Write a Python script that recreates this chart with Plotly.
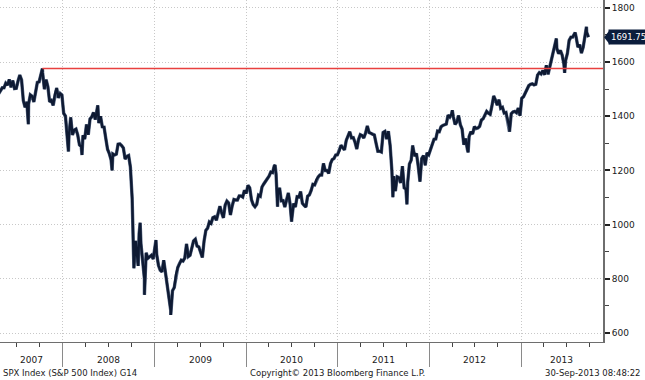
import pandas as pd
import plotly.graph_objects as go

# Weekly closes of the S&P 500 (Friday), by year
c2007 = [1484,1494,1505,1505,1522,1515,1536,1507,1532,1502,1503,1530,1552,1534,1458,1433,1453,1445,1479,1474,1453,1484,1525,1527,1557,1561,1500,1535,1509,1453,1458,1440,1481,1504,1468,1484,1478]
c2008 = [1411,1401,1325,1330,1396,1331,1349,1353,1331,1294,1288,1330,1316,1370,1332,1390,1398,1414,1388,1426,1375,1400,1361,1360,1318,1278,1262,1239,1261,1257,1260,1297,1298,1292,1283,1242,1252,1255,1213,1099,899,940,877,968,931,873,800,896,876,880,887,873]
c2009 = [931,890,850,832,826,869,827,770,735,683,756,768,816,842,857,869,866,877,929,882,887,919,940,946,921,918,896,879,940,979,987,1010,1005,1026,1029,1016,1042,1068,1044,1025,1072,1087,1080,1036,1069,1093,1091,1091,1106,1106,1102,1127]
c2010 = [1115,1145,1136,1092,1074,1066,1075,1109,1105,1139,1150,1160,1167,1179,1194,1192,1217,1187,1111,1136,1088,1089,1065,1092,1117,1076,1023,1078,1065,1103,1102,1122,1079,1071,1065,1105,1110,1126,1149,1147,1166,1176,1183,1183,1226,1200,1200,1189,1225,1240,1244,1257,1258]
c2011 = [1272,1293,1284,1276,1311,1329,1343,1320,1321,1304,1279,1314,1332,1329,1320,1338,1364,1340,1338,1333,1331,1300,1271,1271,1268,1340,1344,1316,1345,1292,1199,1179,1124,1177,1174,1154,1216,1136,1131,1155,1224,1238,1285,1253,1263,1216,1159,1244,1255,1219,1265,1258]
c2012 = [1278,1289,1315,1316,1345,1343,1361,1366,1370,1371,1404,1397,1408,1398,1370,1379,1403,1369,1353,1295,1318,1278,1325,1343,1335,1362,1355,1357,1363,1386,1391,1405,1418,1411,1407,1438,1466,1460,1441,1461,1429,1433,1412,1414,1380,1359,1409,1416,1418,1413,1430,1402]
c2013 = [1466,1472,1486,1503,1513,1518,1520,1516,1518,1552,1561,1556,1569,1553,1588,1555,1582,1614,1633,1667,1650,1631,1643,1626,1593,1606,1632,1680,1692,1692,1709,1691,1655,1664,1633,1655,1688,1710,1691.75]

# Notable intraday extremes
extreme_dates = ['2007-08-16','2007-10-11','2008-01-23','2008-03-17','2008-05-19','2008-07-15','2008-10-10','2008-10-27','2008-11-04','2008-11-21','2009-01-06','2009-03-06','2010-04-26','2010-05-06','2010-07-01','2011-04-29','2011-08-09','2011-10-04','2011-10-27','2012-04-02','2012-06-04','2012-09-14','2012-11-16','2013-05-22','2013-06-24','2013-08-05','2013-09-19']
extreme_vals = [1371,1576,1270,1257,1440,1200,839,848,1007,741,943,667,1220,1066,1011,1364,1101,1075,1292,1422,1267,1475,1343,1687,1560,1709,1730]

year_starts = ['2008-01-01','2009-01-01','2010-01-01','2011-01-01','2012-01-01','2013-01-01']
quarter_ticks = ['2007-07-01','2007-10-01','2008-04-01','2008-07-01','2008-10-01','2009-04-01','2009-07-01','2009-10-01',
                 '2010-04-01','2010-07-01','2010-10-01','2011-04-01','2011-07-01','2011-10-01','2012-04-01','2012-07-01',
                 '2012-10-01','2013-04-01','2013-07-01','2013-10-01']
year_labels = ['2007','2008','2009','2010','2011','2012','2013']
year_label_pos = ['2007-08-29','2008-07-01','2009-07-02','2010-07-02','2011-07-02','2012-07-01','2013-06-13']
y_ticks = [600,800,1000,1200,1400,1600,1800]
y_minor = [700,900,1100,1300,1500,1700]
prior_high = 1576
prior_high_date = '2007-10-11'
last_price = 1691.75

x_range = ['2007-04-25','2013-11-24']
y_range = [567, 1829]

weekly = c2007 + c2008 + c2009 + c2010 + c2011 + c2012 + c2013
weekly_dates = pd.date_range('2007-04-20', periods=len(weekly), freq='W-FRI')
df = pd.concat([
    pd.DataFrame({'d': weekly_dates, 'v': weekly}),
    pd.DataFrame({'d': pd.to_datetime(extreme_dates), 'v': extreme_vals}),
]).sort_values('d', kind='stable')

NAVY = '#0e1a33'
BOX = '#0b1d3c'
GRID = '#c8c8c8'
font_family = 'DejaVu Sans'

fig = go.Figure()
fig.add_trace(go.Scatter(x=df['d'], y=df['v'], mode='lines',
                         line=dict(color='#5a6a85', width=3.4), hoverinfo='skip'))
fig.add_trace(go.Scatter(x=df['d'], y=df['v'], mode='lines',
                         line=dict(color=NAVY, width=2.4), hoverinfo='x+y'))

fig.add_shape(type='line', xref='x', yref='y', x0=prior_high_date, x1=x_range[1],
              y0=prior_high, y1=prior_high, line=dict(color='#e8403f', width=1.5))

# last-price pointer
fig.add_shape(type='path', xref='paper', yref='y', xsizemode='pixel', ysizemode='pixel',
              xanchor=1, yanchor=last_price, path='M 1,0 L 7,7.5 L 7,-7.5 Z',
              fillcolor=BOX, line=dict(width=0))
fig.add_annotation(xref='paper', yref='y', x=1, y=last_price, text=f'{last_price:.2f}',
                   xanchor='left', yanchor='middle', xshift=5, showarrow=False,
                   bgcolor=BOX, borderpad=2,
                   font=dict(family=font_family, size=8.5, color='white'))

for lab, pos in zip(year_labels, year_label_pos):
    fig.add_annotation(xref='x', yref='paper', x=pos, y=0, yanchor='middle', yshift=-18,
                       text=lab, showarrow=False, font=dict(family=font_family, size=9, color='#1a1a1a'))

bottom_font = dict(family=font_family, size=8.5, color='#1a1a1a')
fig.add_annotation(xref='paper', yref='paper', x=0, y=0, xanchor='left', yanchor='middle',
                   xshift=1, yshift=-31, text='SPX Index (S&P 500 Index) G14', showarrow=False, font=bottom_font)
fig.add_annotation(xref='paper', yref='paper', x=337/603, y=0, xanchor='center', yanchor='middle',
                   yshift=-31, text='Copyright© 2013 Bloomberg Finance L.P.', showarrow=False, font=bottom_font)
fig.add_annotation(xref='paper', yref='paper', x=1, y=0, xanchor='right', yanchor='middle',
                   xshift=39, yshift=-31, text='30-Sep-2013 08:48:22', showarrow=False, font=bottom_font)

fig.update_layout(
    width=645, height=380,
    margin=dict(l=0, r=42, t=0, b=38),
    paper_bgcolor='white', plot_bgcolor='white',
    showlegend=False,
    xaxis=dict(type='date', range=x_range, tickmode='array', tickvals=year_starts,
               showticklabels=False, ticks='outside', ticklen=24, tickwidth=1, tickcolor='#8a8a8a',
               showgrid=True, gridcolor=GRID, griddash='1px,2px', gridwidth=1,
               showline=True, linecolor='#6e6e6e', linewidth=1, zeroline=False,
               minor=dict(tickmode='array', tickvals=quarter_ticks, ticks='outside', ticklen=4,
                          tickwidth=1, tickcolor='#444444', showgrid=False)),
    yaxis=dict(side='right', range=y_range, tickmode='array', tickvals=y_ticks,
               ticks='outside', ticklen=5, tickwidth=2, tickcolor='#222222',
               showgrid=True, gridcolor=GRID, griddash='1px,2px', gridwidth=1,
               showline=True, linecolor='#6e6e6e', linewidth=2, zeroline=False,
               tickfont=dict(family=font_family, size=9, color='#1a1a1a'),
               minor=dict(tickmode='array', tickvals=y_minor, ticks='outside', ticklen=4,
                          tickwidth=1, tickcolor='#444444', showgrid=False)),
)

fig.write_html('out.html', config={'displayModeBar': False},
               post_script="document.body.style.margin='0';document.body.style.overflow='hidden';")
